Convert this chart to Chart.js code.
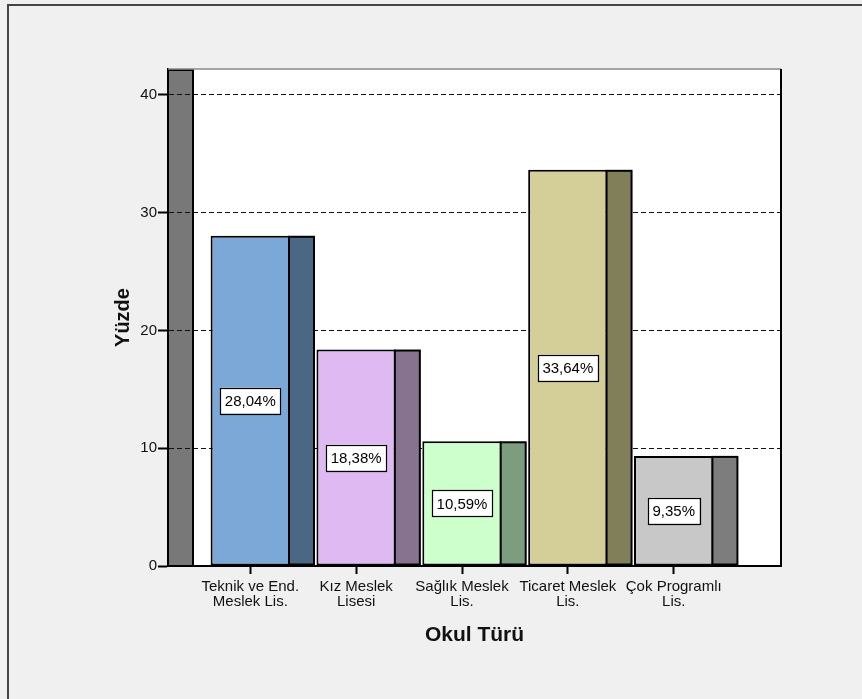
<!DOCTYPE html>
<html lang="tr">
<head>
<meta charset="utf-8">
<title>Okul Türü</title>
<script src="https://cdn.jsdelivr.net/npm/chart.js@4.4.1/dist/chart.umd.min.js"></script>
<style>
  html, body { margin: 0; padding: 0; background: #f0f0f0; }
  canvas { display: block; }
</style>
</head>
<body>
<canvas id="grafico-okul" width="862" height="699"></canvas>
<script>
const okulTurleri = [
  ['Teknik ve End.', 'Meslek Lis.'],
  ['Kız Meslek', 'Lisesi'],
  ['Sağlık Meslek', 'Lis.'],
  ['Ticaret Meslek', 'Lis.'],
  ['Çok Programlı', 'Lis.']
];
const yuzdeler = [28.04, 18.38, 10.59, 33.64, 9.35];
const yEksenDegerleri = [0, 10, 20, 30, 40];

const onRenkler = ['#7ba8d6', '#dfb9f1', '#ccffcc', '#d4ce98', '#c8c8c8'];
const yanRenkler = ['#4a6883', '#877290', '#7c9e7e', '#817f5a', '#7d7d7d'];
const DERINLIK = 25; // 3B yan yüz / duvar kalınlığı (px)
const KENAR = 2;
const YAZI = '"Liberation Sans", Arial, sans-serif';

Chart.defaults.font.family = YAZI;

function yuzdeYaz(v) {
  return v.toFixed(2).replace('.', ',') + '%';
}

// kenarlığı içe doğru çizilen dikdörtgen (Chart.js çubuklarıyla aynı biçim)
function kutu(ctx, x, y, w, h, renk) {
  ctx.fillStyle = '#000';
  ctx.fillRect(x, y, w, h);
  ctx.fillStyle = renk;
  ctx.fillRect(x + KENAR, y + KENAR, w - 2 * KENAR, h - 2 * KENAR);
}

const ucBoyutPlugin = {
  id: 'ucBoyut',
  beforeDraw(chart) {
    const { ctx, chartArea: a, width, height } = chart;
    ctx.save();
    ctx.fillStyle = '#f0f0f0';
    ctx.fillRect(0, 0, width, height);
    // dış çerçeve
    ctx.strokeStyle = '#444';
    ctx.lineWidth = 2;
    ctx.strokeRect(8, 5, width + 20, height + 20);
    // grafik alanı
    ctx.fillStyle = '#fff';
    ctx.fillRect(a.left, a.top, a.width, a.height);
    // sol duvar
    kutu(ctx, a.left - 1, a.top, DERINLIK + 2, a.height + 1, '#787878');
    ctx.restore();
  },
  afterDatasetsDraw(chart) {
    const { ctx, chartArea: a } = chart;
    const bars = chart.getDatasetMeta(0).data;
    ctx.save();
    // çubukların yan yüzleri
    bars.forEach((bar, i) => {
      const sag = bar.x + bar.width / 2 - KENAR;
      kutu(ctx, sag, bar.y, DERINLIK + KENAR, bar.base - bar.y, yanRenkler[i]);
    });
    // üst ve sağ kenar
    ctx.strokeStyle = '#8a8a8a';
    ctx.lineWidth = 1.5;
    ctx.beginPath();
    ctx.moveTo(a.left, a.top);
    ctx.lineTo(a.right, a.top);
    ctx.stroke();
    ctx.strokeStyle = '#000';
    ctx.lineWidth = 2;
    ctx.beginPath();
    ctx.moveTo(a.right, a.top);
    ctx.lineTo(a.right, a.bottom);
    ctx.stroke();
    // değer etiketleri
    ctx.font = '15px ' + YAZI;
    ctx.textAlign = 'center';
    ctx.textBaseline = 'middle';
    bars.forEach((bar, i) => {
      const metin = yuzdeYaz(yuzdeler[i]);
      const w = ctx.measureText(metin).width + 9;
      const h = 26;
      const cy = (bar.y + bar.base) / 2;
      ctx.fillStyle = '#fff';
      ctx.fillRect(bar.x - w / 2, cy - h / 2, w, h);
      ctx.strokeStyle = '#000';
      ctx.lineWidth = 1.2;
      ctx.strokeRect(Math.round(bar.x - w / 2) + 0.5, Math.round(cy - h / 2) + 0.5, Math.round(w), h);
      ctx.fillStyle = '#000';
      ctx.fillText(metin, bar.x, cy + 1);
    });
    ctx.restore();
  }
};

const ctx = document.getElementById('grafico-okul').getContext('2d');
new Chart(ctx, {
  type: 'bar',
  data: {
    datasets: [{
      label: 'Yüzde',
      data: yuzdeler.map((v, i) => ({ x: i + 1, y: v })),
      backgroundColor: onRenkler,
      borderColor: '#000',
      borderWidth: KENAR,
      borderSkipped: false,
      barPercentage: 0.75,
      categoryPercentage: 1
    }]
  },
  options: {
    responsive: false,
    animation: false,
    layout: { padding: { top: 69, right: 81, left: 0, bottom: 0 } },
    plugins: {
      legend: { display: false },
      tooltip: { enabled: false }
    },
    scales: {
      x: {
        type: 'linear',
        min: 0.2225,
        max: 6.0135,
        offset: false,
        afterBuildTicks: s => { s.ticks = okulTurleri.map((_, i) => ({ value: i + 1 })); },
        afterFit: s => { s.height = 133; },
        grid: { offset: false, drawOnChartArea: false, drawTicks: true, tickLength: 8, tickColor: '#000', tickWidth: 2 },
        border: { display: true, color: '#000', width: 2 },
        ticks: {
          callback: v => okulTurleri[v - 1] || '',
          font: { size: 15, lineHeight: 1 },
          color: '#111',
          padding: 5,
          maxRotation: 0,
          autoSkip: false
        },
        title: {
          display: true,
          text: 'Okul Türü',
          font: { size: 21, weight: 'bold' },
          color: '#111',
          padding: { top: 0, bottom: 51 }
        }
      },
      y: {
        min: 0,
        max: 42.2,
        afterBuildTicks: s => { s.ticks = yEksenDegerleri.map(v => ({ value: v })); },
        afterFit: s => { s.width = 168; },
        grid: { color: '#111', lineWidth: 1, tickLength: 10, tickColor: '#000', tickWidth: 2, tickBorderDash: [] },
        border: { display: true, color: '#000', width: 2, dash: [5, 3] },
        ticks: { font: { size: 15 }, color: '#111', padding: 1 },
        title: {
          display: true,
          text: 'Yüzde',
          font: { size: 20, weight: 'bold' },
          color: '#111',
          padding: { top: 111, bottom: 0 }
        }
      }
    }
  },
  plugins: [ucBoyutPlugin]
});
</script>
</body>
</html>
